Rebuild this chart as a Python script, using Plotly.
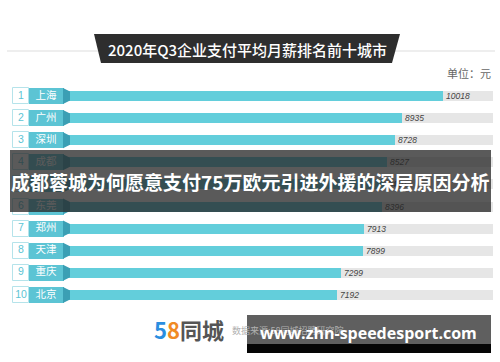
import plotly.graph_objects as go

# ---------------- data ----------------
ranks = [1, 2, 3, 4, 5, 6, 7, 8, 9, 10]
cities = ["上海", "广州", "深圳", "成都", "杭州", "东莞", "郑州", "天津", "重庆", "北京"]
salaries = [10018, 8935, 8728, 8527, 8450, 8396, 7913, 7899, 7299, 7192]
track_max = 11330

title_text = "2020年Q3企业支付平均月薪排名前十城市"
unit_text = "单位：元"
overlay_text = "成都蓉城为何愿意支付75万欧元引进外援的深层原因分析"
source_text = "数据来源:58同城招聘研究院"
watermark_text = "www.zhn-speedesport.com"

# ---------------- geometry helpers ----------------
W, H = 500, 362
PX_PER_UNIT = 0.03772
ZERO_PX = 65.4
ROW1_PX = 96.0
ROW_STEP = 22.1


def ux(px):
    """pixel x -> data x"""
    return (px - ZERO_PX) / PX_PER_UNIT


def X(px):
    return px / W


def Y(py):
    return 1 - py / H


x_range = [ux(0), ux(W)]
y_top = 1 - ROW1_PX / ROW_STEP
y_bot = 1 + (H - ROW1_PX) / ROW_STEP

TEAL = "#63cedb"
TEAL_BOX = "#5cc4d4"
TEAL_DARK = "#3b9fb4"
FONT = "Noto Sans CJK SC"

fig = go.Figure()

# grey tracks
fig.add_trace(go.Bar(
    y=ranks, x=[track_max] * len(ranks), base=0, orientation="h",
    width=10 / ROW_STEP, marker=dict(color="#e6e6e6", line=dict(width=0)),
    hoverinfo="skip", showlegend=False))

# value bars
fig.add_trace(go.Bar(
    y=ranks, x=salaries, base=0, orientation="h",
    width=10 / ROW_STEP, marker=dict(color=TEAL, line=dict(width=0)),
    text=[f"<i>{v}</i>" for v in salaries], textposition="outside",
    constraintext="none", cliponaxis=False,
    textfont=dict(family="Liberation Sans", size=8.5, color="#444"),
    showlegend=False))

# number boxes (white with light border)
fig.add_trace(go.Bar(
    y=ranks, x=[ux(29) - ux(13)] * len(ranks), base=ux(13), orientation="h",
    width=16 / ROW_STEP,
    marker=dict(color="white", line=dict(width=1, color="#b5e3ea")),
    hoverinfo="skip", showlegend=False))

# city name boxes
fig.add_trace(go.Bar(
    y=ranks, x=[ux(63.5) - ux(29)] * len(ranks), base=ux(29), orientation="h",
    width=16 / ROW_STEP, marker=dict(color=TEAL_BOX, line=dict(width=0)),
    hoverinfo="skip", showlegend=False))

# rank numbers
fig.add_trace(go.Scatter(
    y=ranks, x=[ux(21)] * len(ranks), mode="text",
    text=[str(r) for r in ranks], textposition="middle center",
    textfont=dict(family="Liberation Sans", size=10.5, color=TEAL_BOX),
    hoverinfo="skip", showlegend=False))

# city names
fig.add_trace(go.Scatter(
    y=ranks, x=[ux(46)] * len(ranks), mode="text",
    text=cities, textposition="middle center",
    textfont=dict(family=FONT, size=10.5, color="white"),
    hoverinfo="skip", showlegend=False))

shapes = []
# ribbon folds
hb = 8 / ROW_STEP
hs = 4.5 / ROW_STEP
for r in ranks:
    shapes.append(dict(
        type="path", xref="x", yref="y",
        path=(f"M {ux(63)},{r - hb} L {ux(70)},{r - hs} "
              f"L {ux(70)},{r + hs} L {ux(63)},{r + hb} Z"),
        fillcolor=TEAL_DARK, line=dict(width=0), layer="above"))

# title rule + banner
shapes.append(dict(type="line", xref="paper", yref="paper",
                   x0=X(7), x1=X(495), y0=Y(51), y1=Y(51),
                   line=dict(color="#dddddd", width=1)))
shapes.append(dict(type="path", xref="paper", yref="paper",
                   path=(f"M {X(94)},{Y(34)} L {X(400)},{Y(34)} "
                         f"L {X(392)},{Y(63)} L {X(101)},{Y(63)} Z"),
                   fillcolor="#2e2e2e", line=dict(width=0)))

# overlay band
shapes.append(dict(type="rect", xref="paper", yref="paper",
                   x0=X(10), x1=X(491), y0=Y(150), y1=Y(212),
                   fillcolor="rgba(38,38,38,0.76)", line=dict(width=0),
                   layer="above"))

# watermark box
shapes.append(dict(type="rect", xref="paper", yref="paper",
                   x0=X(247), x1=X(491), y0=Y(315), y1=Y(344),
                   fillcolor="#5f5f5f", line=dict(width=0), layer="above"))
shapes.append(dict(type="rect", xref="paper", yref="paper",
                   x0=X(247), x1=X(491), y0=Y(344), y1=Y(353),
                   fillcolor="#050505", line=dict(width=0), layer="above"))

annotations = [
    dict(text=title_text, x=X(247), y=Y(49.5), xref="paper", yref="paper",
         showarrow=False, xanchor="center", yanchor="middle",
         font=dict(family=FONT, size=15, color="white", weight=500)),
    dict(text=unit_text, x=X(493), y=Y(73), xref="paper", yref="paper",
         showarrow=False, xanchor="right", yanchor="middle",
         font=dict(family=FONT, size=11, color="#666666")),
    dict(text=overlay_text, x=X(250), y=Y(181), xref="paper", yref="paper",
         showarrow=False, xanchor="center", yanchor="middle",
         font=dict(family=FONT, size=19, color="white", weight="bold")),
    dict(text="<span style='color:#2a8ee0'>5</span><span style='color:#f08a24'>8</span>"
              "<span style='color:#555555'>同城</span>",
         x=X(152), y=Y(329), xref="paper", yref="paper",
         showarrow=False, xanchor="left", yanchor="middle",
         font=dict(family=FONT, size=22, color="#555555", weight="bold")),
    dict(text=source_text, x=X(230), y=Y(330), xref="paper", yref="paper",
         showarrow=False, xanchor="left", yanchor="middle",
         font=dict(family=FONT, size=9, color="#b0b0b0")),
    dict(text=watermark_text, x=X(368), y=Y(333), xref="paper", yref="paper",
         showarrow=False, xanchor="center", yanchor="middle",
         font=dict(family="Open Sans", size=16, color="white", weight="bold")),
]

fig.update_layout(
    width=W, height=H,
    margin=dict(l=0, r=0, t=0, b=0),
    paper_bgcolor="white", plot_bgcolor="white",
    barmode="overlay", bargap=0,
    xaxis=dict(range=x_range, visible=False, fixedrange=True),
    yaxis=dict(range=[y_bot, y_top], visible=False, fixedrange=True),
    shapes=shapes, annotations=annotations,
    showlegend=False,
)

fig.write_html("out.html", config={"displayModeBar": False},
               post_script="document.body.style.margin='0';")
